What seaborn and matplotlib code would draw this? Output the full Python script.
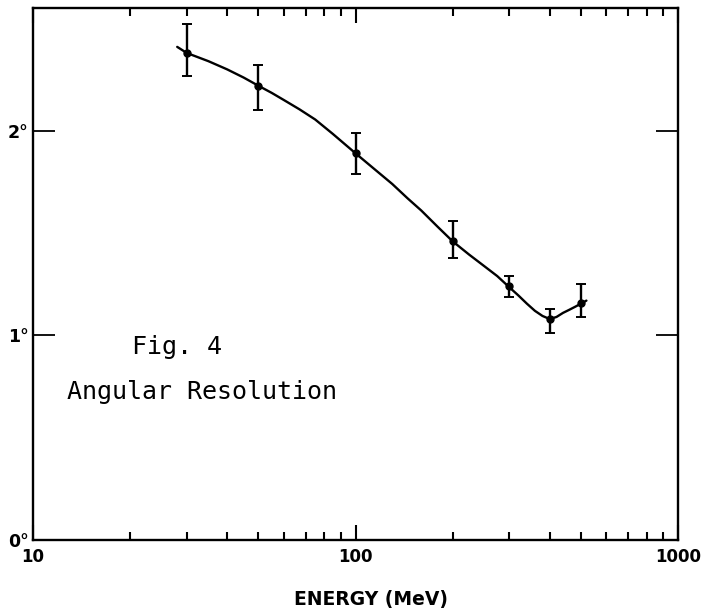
import numpy as np
import matplotlib
matplotlib.use("Agg")
import matplotlib.pyplot as plt
import seaborn as sns
import pandas as pd
from matplotlib.ticker import LogLocator, FixedLocator, NullFormatter

# Measured points
energy = [30, 50, 100, 200, 300, 400, 500]
resolution = [2.38, 2.22, 1.89, 1.46, 1.24, 1.08, 1.16]
err_low = [0.11, 0.12, 0.10, 0.08, 0.05, 0.07, 0.07]
err_high = [0.14, 0.10, 0.10, 0.10, 0.05, 0.05, 0.09]

# Hand-drawn smooth curve
curve_energy = [28, 30, 35, 40, 45, 50, 55, 60, 67, 75, 85, 100, 115, 130, 145, 160, 180,
                200, 225, 250, 275, 300, 320, 340, 360, 380, 400, 420, 440, 460, 480, 500, 520]
curve_res = [2.41, 2.38, 2.34, 2.30, 2.26, 2.22, 2.185, 2.15, 2.105, 2.055, 1.985, 1.89, 1.81,
             1.74, 1.67, 1.61, 1.53, 1.46, 1.395, 1.34, 1.29, 1.235, 1.195, 1.155, 1.12,
             1.095, 1.08, 1.09, 1.11, 1.125, 1.14, 1.155, 1.17]

x_ticks = [10, 100, 1000]
x_ticklabels = ["10", "100", "1000"]
y_ticks = [0, 1, 2]
y_ticklabels = ["0°", "1°", "2°"]

sns.set_style("ticks")
plt.rcParams['font.family'] = ['DejaVu Sans']
plt.rcParams['text.color'] = 'black'
plt.rcParams['xtick.color'] = 'black'
plt.rcParams['ytick.color'] = 'black'
plt.rcParams['axes.labelcolor'] = 'black'

fig = plt.figure(figsize=(7.04, 6.13), dpi=100)
ax = fig.add_axes([33/704, 1 - 540/613, (678 - 33)/704, (540 - 8)/613])

curve_df = pd.DataFrame({"E": curve_energy, "R": curve_res})
sns.lineplot(data=curve_df, x="E", y="R", ax=ax, color="black", linewidth=1.7,
             estimator=None, sort=False)
ax.errorbar(energy, resolution, yerr=[err_low, err_high], fmt="o", color="black",
            markersize=5, elinewidth=1.7, capsize=3.5, capthick=1.4)

ax.set_xscale("log")
ax.set_xlim(10, 1000)
ax.set_ylim(0, 2.6)

for s in ax.spines.values():
    s.set_linewidth(1.7)
    s.set_color("black")

ax.xaxis.set_major_locator(FixedLocator(x_ticks))
ax.set_xticklabels(x_ticklabels, fontsize=12, fontweight="bold", color="black")
ax.xaxis.set_minor_locator(LogLocator(base=10, subs=range(2, 10)))
ax.xaxis.set_minor_formatter(NullFormatter())
ax.tick_params(axis="x", which="major", direction="in", length=11, width=1.5,
               top=True, pad=6, colors="black")
ax.tick_params(axis="x", which="minor", direction="in", length=6, width=1.5, top=True,
               colors="black")

ax.set_yticks(y_ticks)
ax.set_yticklabels(y_ticklabels, fontsize=12.5, fontweight="bold", color="black")
ax.tick_params(axis="y", which="major", direction="in", length=16, width=1.3,
               right=True, pad=3, colors="black")
ax.tick_params(axis="y", which="minor", left=False, right=False)

ax.set_xlabel("ENERGY (MeV)", fontsize=13.5, fontweight="bold", color="black")
ax.xaxis.set_label_coords((371 - 33) / 645, -(600 - 540) / 532)
ax.xaxis.label.set_va("center")
ax.set_ylabel("")

fig.text(132/704, 1 - 347/613, "Fig. 4", fontsize=18, family="DejaVu Sans Mono",
         va="center", ha="left", color="black")
fig.text(67/704, 1 - 392/613, "Angular Resolution", fontsize=18, family="DejaVu Sans Mono",
         va="center", ha="left", color="black")

fig.savefig("out.png", dpi=100)
